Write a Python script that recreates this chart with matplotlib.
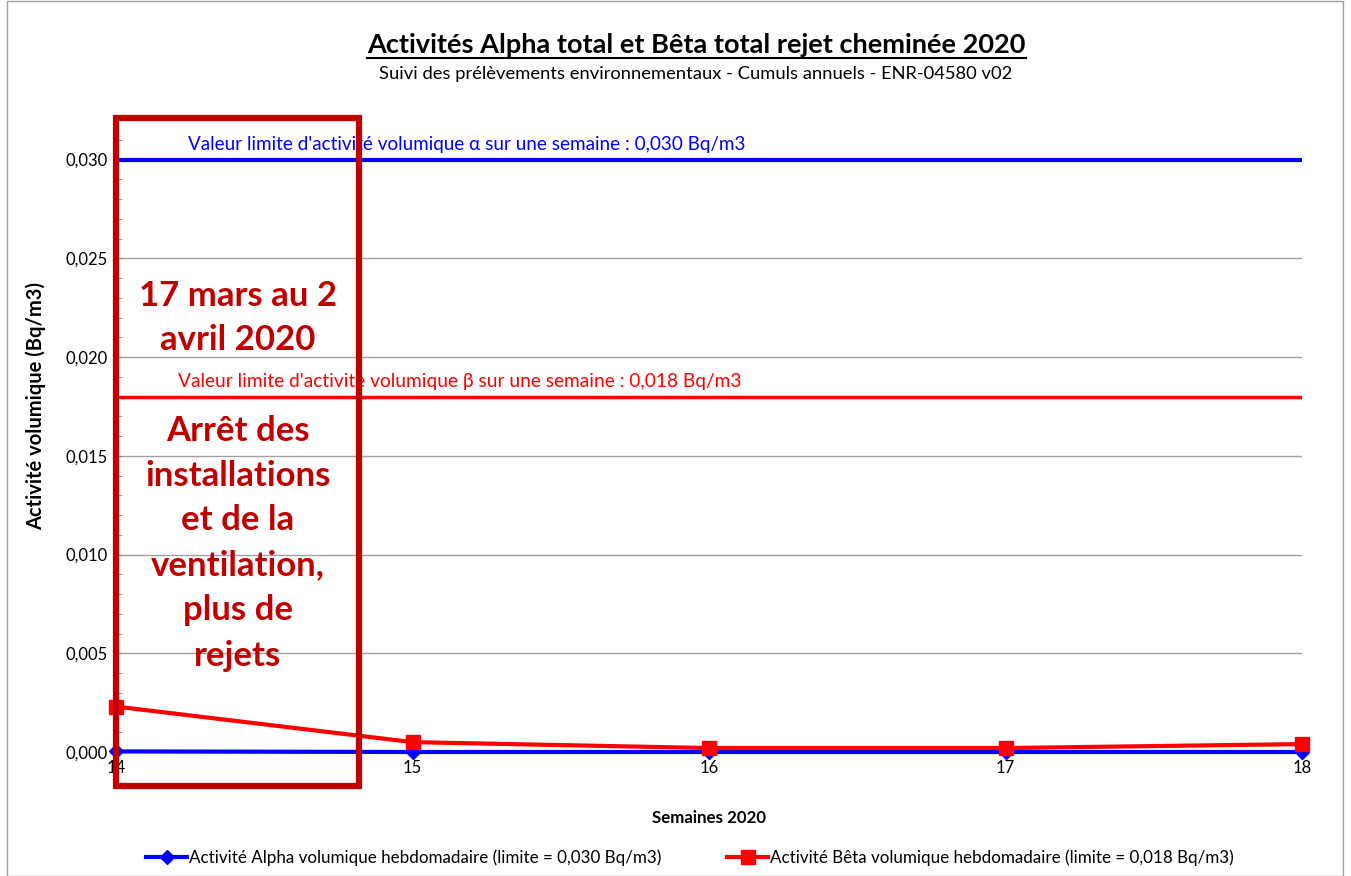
import matplotlib.pyplot as plt
from matplotlib.patches import Rectangle
from matplotlib.ticker import MultipleLocator, FuncFormatter

plt.rcParams['font.family'] = ['Lato', 'DejaVu Sans']

weeks = [14, 15, 16, 17, 18]
alpha = [0.00003, 0.0, 0.0, 0.0, 0.0]
beta = [0.0023, 0.0005, 0.0002, 0.0002, 0.0004]
limit_alpha = 0.030
limit_beta = 0.018

fig = plt.figure(figsize=(13.51, 8.76), dpi=100)
ax = fig.add_axes([116 / 1351, 1 - 752 / 876, (1302 - 116) / 1351, (752 - 120) / 876])

# cadre gris autour du graphique
fig.patches.append(Rectangle((7 / 1351, 0.0), 1336 / 1351, 0.999, transform=fig.transFigure,
                             fill=False, edgecolor='#a0a0a0', lw=1))

ax.set_xlim(14, 18)
ax.set_ylim(0, 0.032)
ax.yaxis.set_major_locator(MultipleLocator(0.005))
ax.yaxis.set_minor_locator(MultipleLocator(0.001))
ax.yaxis.set_major_formatter(FuncFormatter(lambda v, p: f"{v:.3f}".replace('.', ',')))
ax.set_xticks(weeks)
ax.grid(axis='y', color='#a0a0a0', lw=1)
ax.set_axisbelow(True)
for s in ['top', 'right']:
    ax.spines[s].set_visible(False)
ax.spines['left'].set_color('#888888')
ax.spines['bottom'].set_color('#888888')
ax.tick_params(axis='y', which='both', direction='in', length=4, color='#888888', labelsize=12, pad=6)
ax.tick_params(axis='x', length=0, labelsize=12, pad=6)

# lignes limites
ax.axhline(limit_alpha, color='#0000ff', lw=3)
ax.axhline(limit_beta, color='#ff0000', lw=2.5)
ax.text(14.243, limit_alpha + 0.00035, "Valeur limite d'activité volumique α sur une semaine : 0,030 Bq/m3",
        color='#0000ff', fontsize=13.6, va='bottom')
ax.text(14.21, limit_beta + 0.00035, "Valeur limite d'activite volumique β sur une semaine : 0,018 Bq/m3",
        color='#ff0000', fontsize=13.8, va='bottom')

ax.plot(weeks, alpha, color='#0000ff', lw=3, marker='D', markersize=7, clip_on=False, zorder=5,
        label='Activité Alpha volumique hebdomadaire (limite = 0,030 Bq/m3)')
ax.plot(weeks, beta, color='#ff0000', lw=3, marker='s', markersize=10, clip_on=False, zorder=6,
        label='Activité Bêta volumique hebdomadaire (limite = 0,018 Bq/m3)')

# encadré
fig.patches.append(Rectangle((116 / 1351, 1 - 786 / 876), 243 / 1351, 668 / 876, transform=fig.transFigure,
                             fill=False, edgecolor='#c00000', lw=4.5, zorder=10))
fig.text(238 / 1351, 1 - 318 / 876, "17 mars au 2\navril 2020", ha='center', va='center',
         color='#c00000', fontsize=25, fontweight='bold', linespacing=1.45)
fig.text(238 / 1351, 1 - 543 / 876, "Arrêt des\ninstallations\net de la\nventilation,\nplus de\nrejets",
         ha='center', va='center', color='#c00000', fontsize=25, fontweight='bold', linespacing=1.5)

fig.text(696 / 1351, 1 - 45 / 876, "Activités Alpha total et Bêta total rejet cheminée 2020",
         ha='center', va='center', fontsize=19.5, fontweight='bold')
fig.add_artist(plt.Line2D([367 / 1351, 1026 / 1351], [1 - 58 / 876, 1 - 58 / 876], color='black', lw=1.5))
fig.text(696 / 1351, 1 - 74 / 876, "Suivi des prélèvements environnementaux - Cumuls annuels - ENR-04580 v02",
         ha='center', va='center', fontsize=13.2)

ax.set_xlabel('Semaines 2020', fontsize=12.2, fontweight='bold', labelpad=24)
ax.set_ylabel('Activité volumique (Bq/m3)', fontsize=14.5, fontweight='bold')
ax.yaxis.set_label_coords(-0.059, 0.547)

fig.legend(loc='center', bbox_to_anchor=(690 / 1351, 1 - 858 / 876), ncol=2, frameon=False,
           fontsize=12.25, handlelength=2.4, handletextpad=0.1, columnspacing=3.9)

fig.savefig('out.png', dpi=100)
